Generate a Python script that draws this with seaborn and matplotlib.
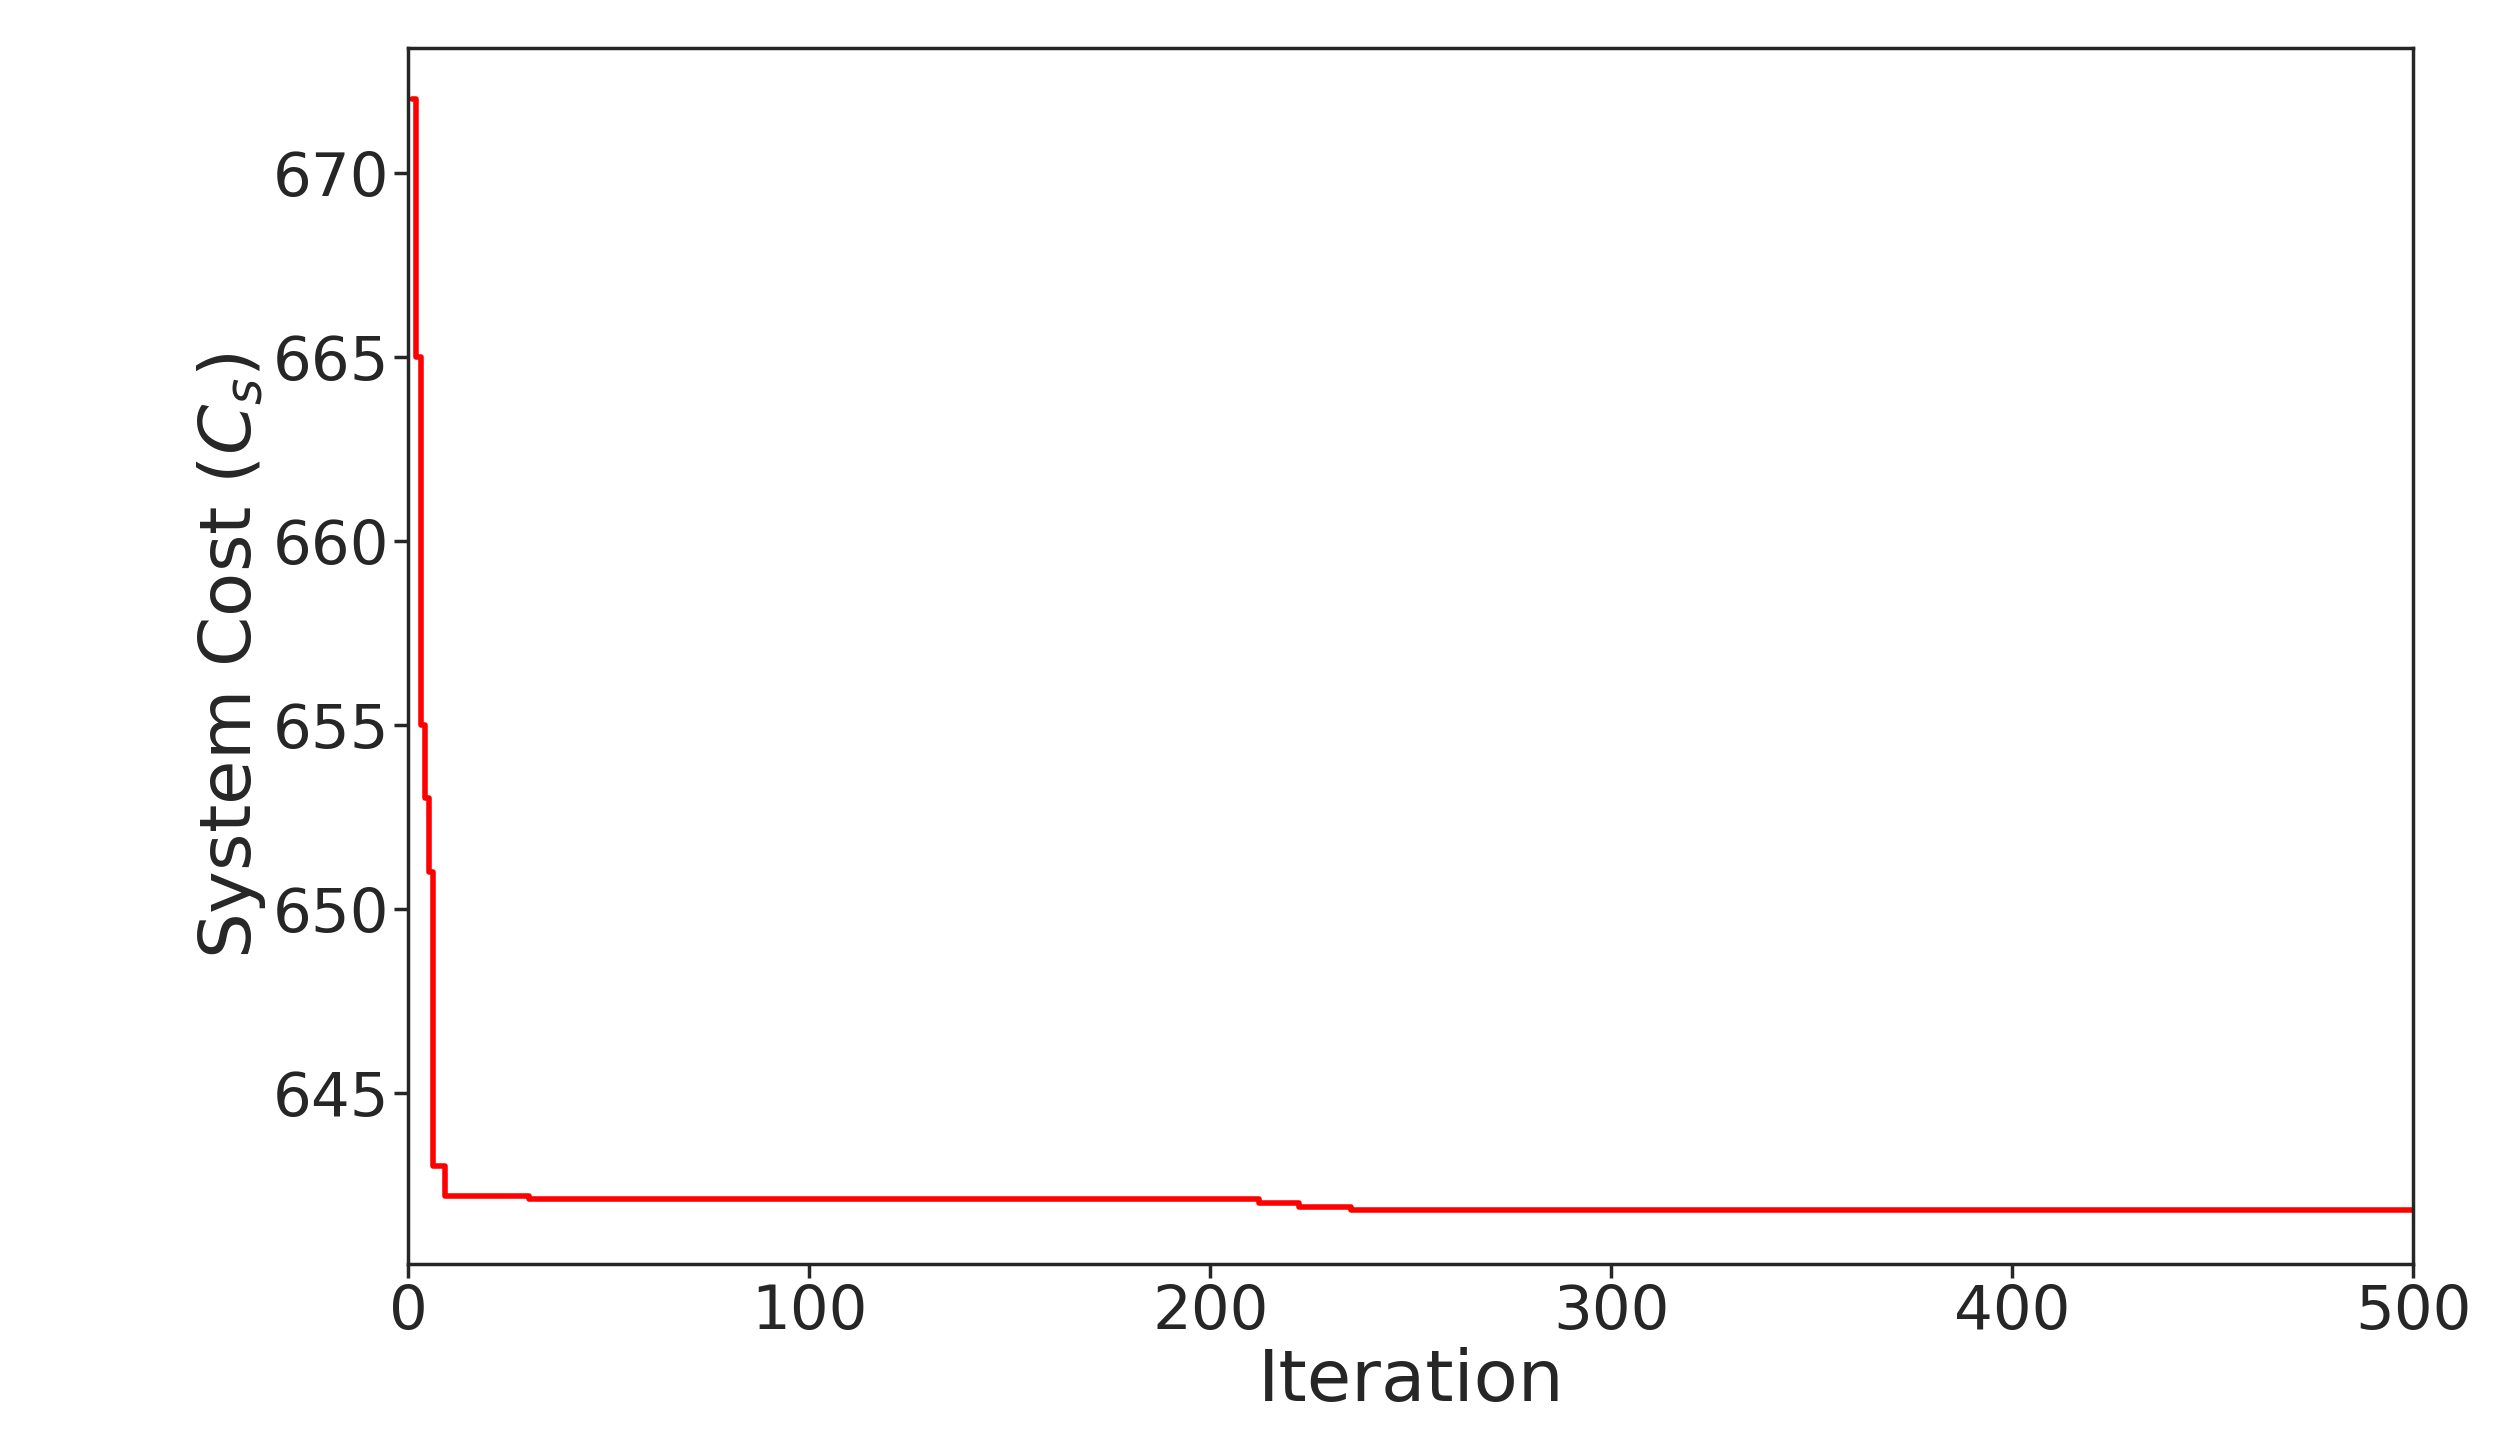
import matplotlib
matplotlib.use("Agg")
import matplotlib.pyplot as plt
import seaborn as sns
import pandas as pd

iterations = [1, 2, 3, 4, 5, 6, 7, 8, 9, 10, 30, 100, 200, 212, 222, 235, 300, 400, 500]
cost = [672.0, 665.0, 655.0, 653.0, 651.0, 643.0, 643.0, 643.0, 642.2, 642.2, 642.1, 642.1, 642.1, 642.0, 641.9, 641.8, 641.8, 641.8, 641.8]

sns.set_style("ticks")
plt.rcParams['font.family'] = ['DejaVu Sans']
df = pd.DataFrame({"Iteration": iterations, "Cost": cost})

fig = plt.figure(figsize=(25.06, 14.51), dpi=100)
ax = fig.add_axes([0.163, 0.129, 0.800, 0.838])
sns.lineplot(data=df, x="Iteration", y="Cost", color="red", linewidth=4, drawstyle="steps-post", ax=ax)
ax.set_xlim(0, 500)
ax.set_ylim(640.35, 673.4)
ax.set_xticks([0, 100, 200, 300, 400, 500])
ax.set_yticks([645, 650, 655, 660, 665, 670])
ax.tick_params(labelsize=44, width=2.5, length=10)
for s in ax.spines.values():
    s.set_linewidth(2.5)
ax.set_xlabel("Iteration", fontsize=52)
ax.set_ylabel("System Cost ($C_s$)", fontsize=52)
fig.savefig("out.png", dpi=100)
